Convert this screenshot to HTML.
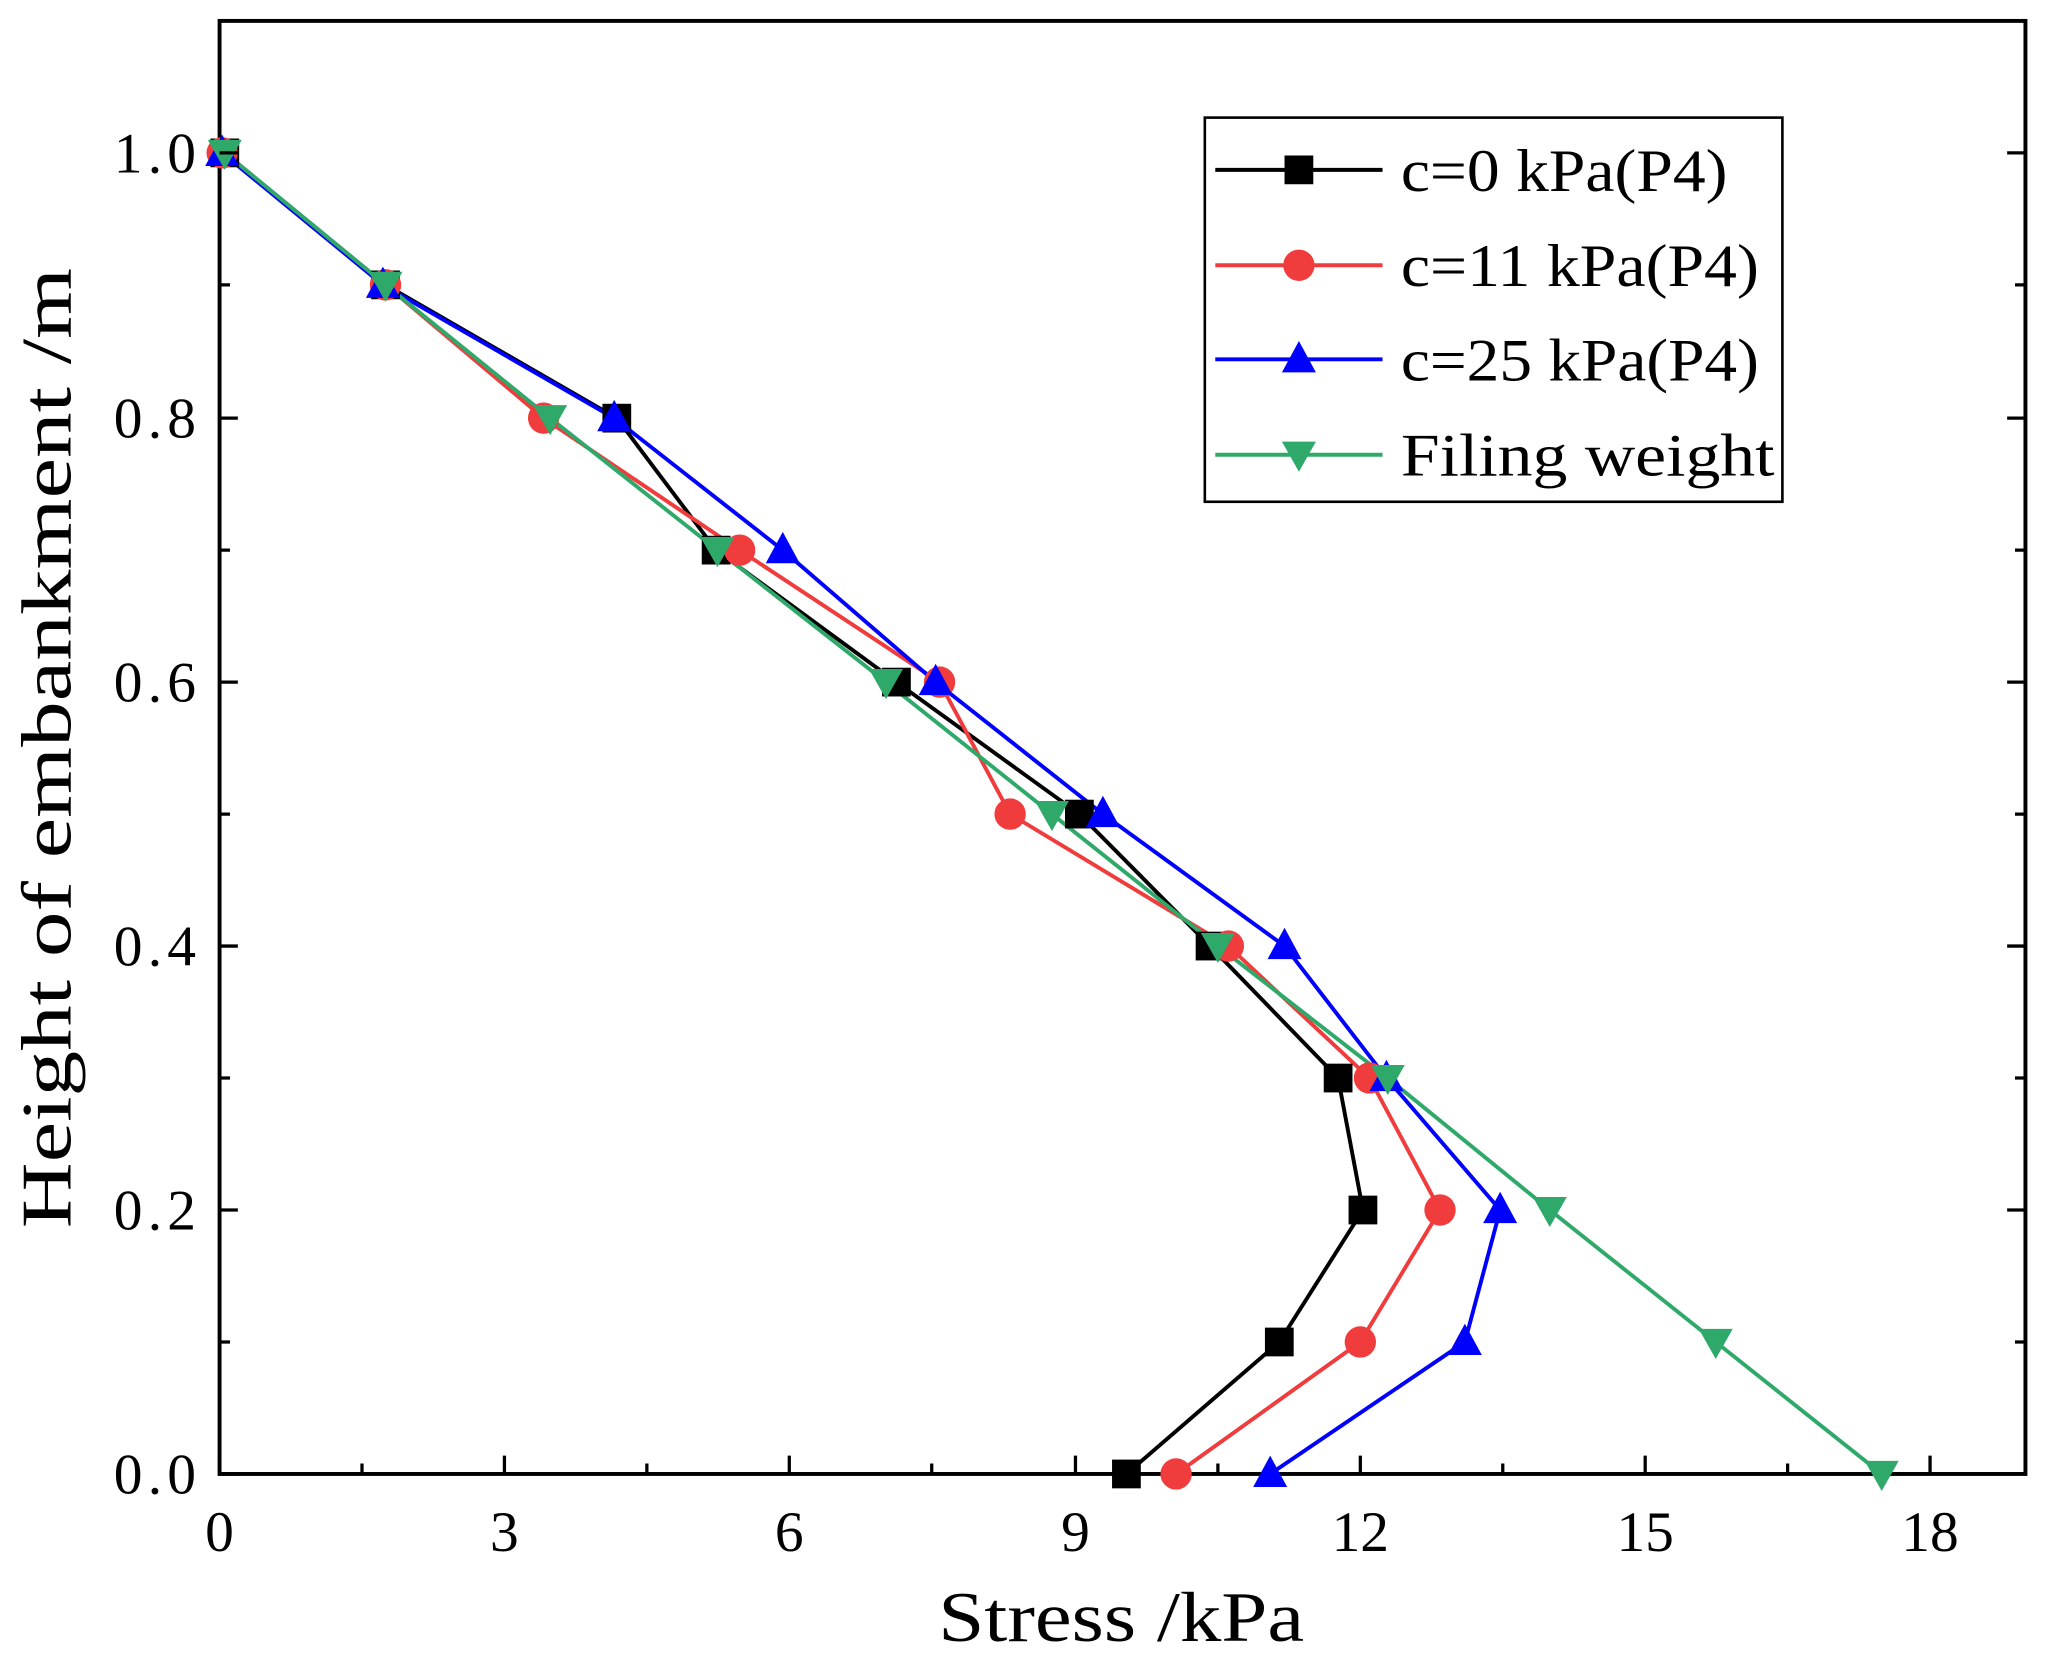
<!DOCTYPE html>
<html><head><style>html,body{margin:0;padding:0;background:#fff}svg{display:block}</style></head><body>
<svg width="2049" height="1659" viewBox="0 0 1568 1269.6" xmlns="http://www.w3.org/2000/svg" font-family="'Liberation Serif',serif">
<defs>
<g id="sq"><rect x="-11" y="-11" width="22" height="22" fill="#000"/></g>
<g id="ci"><circle r="12" fill="#f03c3c"/></g>
<g id="tu"><polygon points="0,-14 13,10 -13,10" fill="#0000ff"/></g>
<g id="td"><polygon points="0,13 13,-10 -13,-10" fill="#2fa96a"/></g>
</defs>
<rect x="168" y="16" width="1382" height="1112" fill="none" stroke="#000" stroke-width="3"/>
<g fill="none" stroke-width="3">
<polyline stroke="#000" points="172,117 295,218 472,320 548,421 686,522 826,623 926,724 1024,825 1043,926 979,1027 862,1128"/>
<polyline stroke="#f03c3c" points="170,117 295,218 416,320 566,421 719,522 773,623 940,724 1048,825 1102,926 1041,1027 900,1128"/>
<polyline stroke="#0000ff" points="170,117 293,218 470,320 599,421 716,522 844,623 983,724 1061,825 1148,926 1121,1027 972,1128"/>
<polyline stroke="#2fa96a" points="172,117 295,218 421,320 549,421 678,522 805,623 932,724 1062,825 1186,926 1313,1027 1440,1128"/>
</g>
<g>
<use href="#sq" x="172" y="117"/><use href="#sq" x="295" y="218"/><use href="#sq" x="472" y="320"/><use href="#sq" x="548" y="421"/><use href="#sq" x="686" y="522"/><use href="#sq" x="826" y="623"/><use href="#sq" x="926" y="724"/><use href="#sq" x="1024" y="825"/><use href="#sq" x="1043" y="926"/><use href="#sq" x="979" y="1027"/><use href="#sq" x="862" y="1128"/>
<use href="#ci" x="170" y="117"/><use href="#ci" x="295" y="218"/><use href="#ci" x="416" y="320"/><use href="#ci" x="566" y="421"/><use href="#ci" x="719" y="522"/><use href="#ci" x="773" y="623"/><use href="#ci" x="940" y="724"/><use href="#ci" x="1048" y="825"/><use href="#ci" x="1102" y="926"/><use href="#ci" x="1041" y="1027"/><use href="#ci" x="900" y="1128"/>
<use href="#tu" x="170" y="117"/><use href="#tu" x="293" y="218"/><use href="#tu" x="470" y="320"/><use href="#tu" x="599" y="421"/><use href="#tu" x="716" y="522"/><use href="#tu" x="844" y="623"/><use href="#tu" x="983" y="724"/><use href="#tu" x="1061" y="825"/><use href="#tu" x="1148" y="926"/><use href="#tu" x="1121" y="1027"/><use href="#tu" x="972" y="1128"/>
<use href="#td" x="172" y="117"/><use href="#td" x="295" y="218"/><use href="#td" x="421" y="320"/><use href="#td" x="549" y="421"/><use href="#td" x="678" y="522"/><use href="#td" x="805" y="623"/><use href="#td" x="932" y="724"/><use href="#td" x="1062" y="825"/><use href="#td" x="1186" y="926"/><use href="#td" x="1313" y="1027"/><use href="#td" x="1440" y="1128"/>
</g>
<g stroke="#000" stroke-width="2.5">
<path d="M168,1128v-14M386,1128v-14M604,1128v-14M823,1128v-14M1041,1128v-14M1259,1128v-14M1477,1128v-14"/>
<path d="M277,1128v-8M495,1128v-8M713,1128v-8M932,1128v-8M1150,1128v-8M1368,1128v-8"/>
<path d="M168,117h14M168,320h14M168,522h14M168,724h14M168,926h14M168,1128h14"/>
<path d="M168,218h8M168,421h8M168,623h8M168,825h8M168,1027h8"/>
<path d="M1550,117h-14M1550,320h-14M1550,522h-14M1550,724h-14M1550,926h-14"/>
<path d="M1550,218h-8M1550,421h-8M1550,623h-8M1550,825h-8M1550,1027h-8"/>
</g>
<g font-size="44" text-anchor="middle" fill="#000">
<text x="168" y="1187">0</text><text x="386" y="1187">3</text><text x="604" y="1187">6</text><text x="823" y="1187">9</text><text x="1041" y="1187">12</text><text x="1259" y="1187">15</text><text x="1477" y="1187">18</text>
</g>
<g font-size="44" text-anchor="end" fill="#000">
<text x="150" y="132" textLength="63">1.0</text><text x="150" y="335" textLength="63">0.8</text><text x="150" y="537" textLength="63">0.6</text><text x="150" y="739" textLength="63">0.4</text><text x="150" y="941" textLength="63">0.2</text><text x="150" y="1143" textLength="63">0.0</text>
</g>
<text x="718" y="1256" font-size="54" textLength="280" lengthAdjust="spacingAndGlyphs">Stress /kPa</text>
<text transform="translate(54,940) rotate(-90)" font-size="54" textLength="735" lengthAdjust="spacingAndGlyphs">Height of embankment /m</text>
<rect x="922" y="90" width="442" height="294" fill="#fff" stroke="#000" stroke-width="2"/>
<g stroke-width="3">
<line x1="930" y1="130" x2="1058" y2="130" stroke="#000"/>
<line x1="930" y1="203" x2="1058" y2="203" stroke="#f03c3c"/>
<line x1="930" y1="275" x2="1058" y2="275" stroke="#0000ff"/>
<line x1="930" y1="348" x2="1058" y2="348" stroke="#2fa96a"/>
</g>
<use href="#sq" x="994" y="130"/><use href="#ci" x="994" y="203"/><use href="#tu" x="994" y="275"/><use href="#td" x="994" y="348"/>
<g font-size="46" fill="#000" lengthAdjust="spacingAndGlyphs">
<text x="1072" y="146" textLength="250" lengthAdjust="spacingAndGlyphs">c=0 kPa(P4)</text>
<text x="1072" y="219" textLength="274" lengthAdjust="spacingAndGlyphs">c=11 kPa(P4)</text>
<text x="1072" y="291" textLength="274" lengthAdjust="spacingAndGlyphs">c=25 kPa(P4)</text>
<text x="1072" y="364" textLength="286" lengthAdjust="spacingAndGlyphs">Filing weight</text>
</g>
</svg>
</body></html>
